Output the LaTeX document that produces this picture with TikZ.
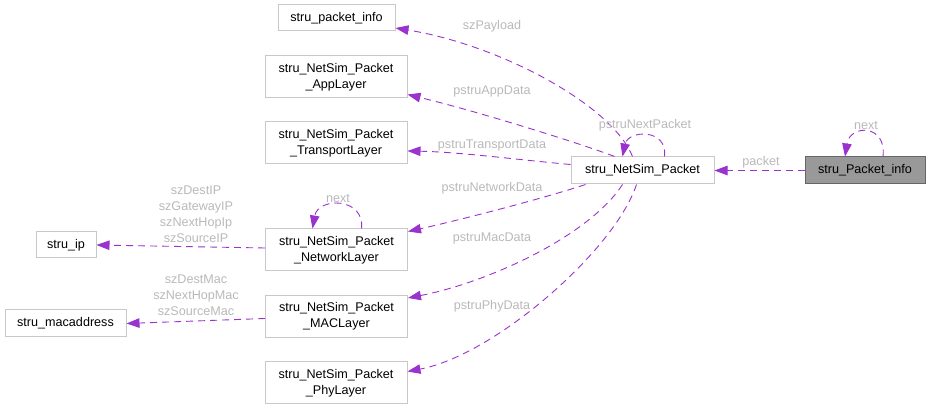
\documentclass[tikz,border=0pt]{standalone}
\usepackage{fontspec}
\setmainfont{Liberation Sans}
\usetikzlibrary{arrows.meta}
\definecolor{edgepurple}{RGB}{154,50,205}
\definecolor{boxline}{RGB}{200,200,200}
\definecolor{labelgray}{RGB}{185,185,185}
\definecolor{infofill}{RGB}{153,153,153}
\definecolor{infoline}{RGB}{102,102,102}
\tikzset{
  cls/.style={draw=boxline, line width=1pt, fill=white, inner xsep=11pt, inner ysep=2pt,
    minimum height=27pt, align=center, font=\fontsize{12.6}{16}\selectfont},
  cls2/.style={cls, minimum width=142pt, minimum height=42pt},
  member/.style={draw=edgepurple, line width=0.9pt, dash pattern=on 7pt off 5pt,
    -{Triangle[length=13pt,width=9.5pt]}},
  role/.style={text=labelgray, font=\fontsize{12.6}{16}\selectfont, align=center, inner sep=0pt}
}
\begin{document}
\begin{tikzpicture}[x=1pt,y=-1pt]
                 \useasboundingbox (0,0) rectangle (930,411);
                 \node[cls, minimum width=117pt, minimum height=26pt] (pinfo) at (336.5,18) {stru\_packet\_info};
                 \node[cls2] (app) at (336,77) {stru\_NetSim\_Packet\\\_AppLayer};
                 \node[cls2] (trans) at (336,143) {stru\_NetSim\_Packet\\\_TransportLayer};
                 \node[cls2] (net) at (336.5,250) {stru\_NetSim\_Packet\\\_NetworkLayer};
                 \node[cls2] (mac) at (336.5,316.5) {stru\_NetSim\_Packet\\\_MACLayer};
                 \node[cls2] (phy) at (336,383) {stru\_NetSim\_Packet\\\_PhyLayer};
                 \node[cls, minimum width=60pt, minimum height=26pt] (ip) at (66,245) {stru\_ip};
                 \node[cls, minimum width=121pt] (macaddr) at (65.5,323.5) {stru\_macaddress};
                 \node[cls, minimum width=143pt] (np) at (642.5,170.5) {stru\_NetSim\_Packet};
                 \node[cls, minimum width=120pt, fill=infofill, draw=infoline] (pk) at (865,170.5) {stru\_Packet\_info};
                 \draw[member] ([xshift=-10pt]np.north) .. controls (612,105) and (500,45) .. ([yshift=-10pt]pinfo.east);
                 \draw[member] ([xshift=-28pt]np.north) .. controls (585,145) and (480,112) .. ([yshift=4pt]app.south east);
                 \draw[member] ([yshift=6pt]np.west) .. controls (520,160) and (460,152) .. ([yshift=-8pt]trans.east);
                 \draw[member] ([xshift=-57pt]np.south) .. controls (545,198) and (460,220) .. ([yshift=-3pt]net.north east);
                 \draw[member] ([xshift=-20pt]np.south) .. controls (590,235) and (490,282) .. ([yshift=-3pt]mac.north east);
                 \draw[member] ([xshift=-6pt]np.south) .. controls (615,250) and (495,355) .. ([yshift=-10pt]phy.north east);
                 \draw[member] ([xshift=22pt]np.north) .. controls (668,128) and (628,130) .. ([xshift=-20pt]np.north);
                 \draw[member] ([xshift=18pt]pk.north) .. controls (887,124) and (850,124) .. ([xshift=-20pt]pk.north);
                 \draw[member] ([xshift=25pt]net.north) .. controls (365,197) and (318,197) .. ([xshift=-24pt]net.north);
                 \draw[member] (pk.west) -- (np.east);
                 \draw[member] ([yshift=2pt]net.west) -- (ip.east);
                 \draw[member] ([yshift=-2pt]mac.west) -- (macaddr.east);
                 \node[role] (lpayload) at (492,26) {szPayload};
                 \node[role] (lapp) at (492,91) {pstruAppData};
                 \node[role] (ltrans) at (492,145) {pstruTransportData};
                 \node[role] (lnet) at (492,188) {pstruNetworkData};
                 \node[role] (lmac) at (492,238) {pstruMacData};
                 \node[role] (lphy) at (492,306) {pstruPhyData};
                 \node[role] (lnextpacket) at (645,125) {pstruNextPacket};
                 \node[role] (lpacket) at (761,162) {packet};
                 \node[role] (lnext) at (866,125) {next};
                 \node[role] (lnetnext) at (338,198) {next};
                 \node[role] (lip) at (196,214.7) {szDestIP\\szGatewayIP\\szNextHopIp\\szSourceIP};
                 \node[role] (lmacaddr) at (196,295.3) {szDestMac\\szNextHopMac\\szSourceMac};
            \end{tikzpicture}
\end{document}
